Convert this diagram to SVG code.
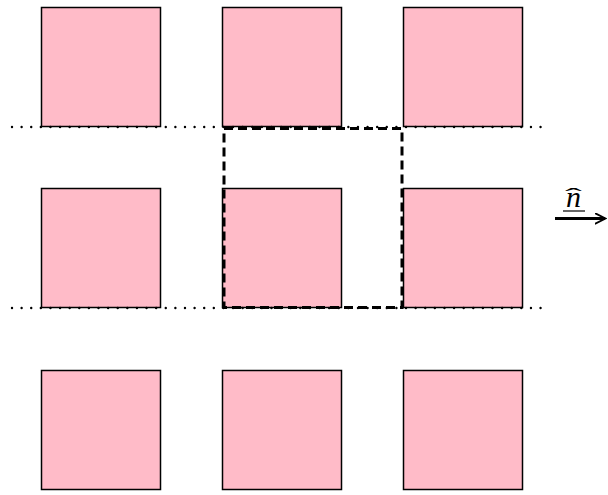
<svg xmlns="http://www.w3.org/2000/svg" width="608" height="495" viewBox="0 0 608 495">
<defs>
<style>
.cell{fill:#ffbbc8;stroke:#000;stroke-width:1.5}
.dot{stroke:#000;stroke-width:2.4;stroke-dasharray:0.01 9.6;stroke-linecap:round;fill:none}
.dash{stroke:#000;stroke-width:3;stroke-dasharray:9 5;fill:none}
.lbl{font-family:"Liberation Serif",serif;font-style:italic;font-size:30px}
</style>
<marker id="ah" viewBox="0 0 10 10" refX="8.5" refY="5" markerWidth="4" markerHeight="4" orient="auto" markerUnits="strokeWidth">
<path d="M0,0.5 L9,5 L0,9.5" fill="none" stroke="#000" stroke-width="1.6"/>
</marker>
</defs>
<g id="cell-0-0"><rect class="cell" x="41.5" y="7.5" width="119" height="119"/></g>
<g id="cell-0-1"><rect class="cell" x="222.5" y="7.5" width="119" height="119"/></g>
<g id="cell-0-2"><rect class="cell" x="403.5" y="7.5" width="119" height="119"/></g>
<g id="cell-1-0"><rect class="cell" x="41.5" y="188.5" width="119" height="119"/></g>
<g id="cell-1-1"><rect class="cell" x="222.5" y="188.5" width="119" height="119"/></g>
<g id="cell-1-2"><rect class="cell" x="403.5" y="188.5" width="119" height="119"/></g>
<g id="cell-2-0"><rect class="cell" x="41.5" y="370.5" width="119" height="119"/></g>
<g id="cell-2-1"><rect class="cell" x="222.5" y="370.5" width="119" height="119"/></g>
<g id="cell-2-2"><rect class="cell" x="403.5" y="370.5" width="119" height="119"/></g>
<g id="guides">
<line class="dot" x1="12" y1="127" x2="548" y2="127"/>
<line class="dot" x1="12" y1="308" x2="548" y2="308"/>
</g>
<g id="unit-cell"><rect class="dash" x="224" y="128.5" width="178" height="179"/></g>
<g id="connectors">
<line x1="555" y1="218.5" x2="605" y2="218.5" stroke="#000" stroke-width="3" marker-end="url(#ah)"/>
</g>
<g id="label">
<text class="lbl" x="573.5" y="207" text-anchor="middle">n</text>
<text x="0" y="0" font-family="Liberation Serif,serif" font-size="22" text-anchor="middle" transform="translate(573.5,203) scale(2.3,1)">ˆ</text>
<line x1="563" y1="211" x2="585" y2="211" stroke="#000" stroke-width="1.2"/>
</g>
</svg>
